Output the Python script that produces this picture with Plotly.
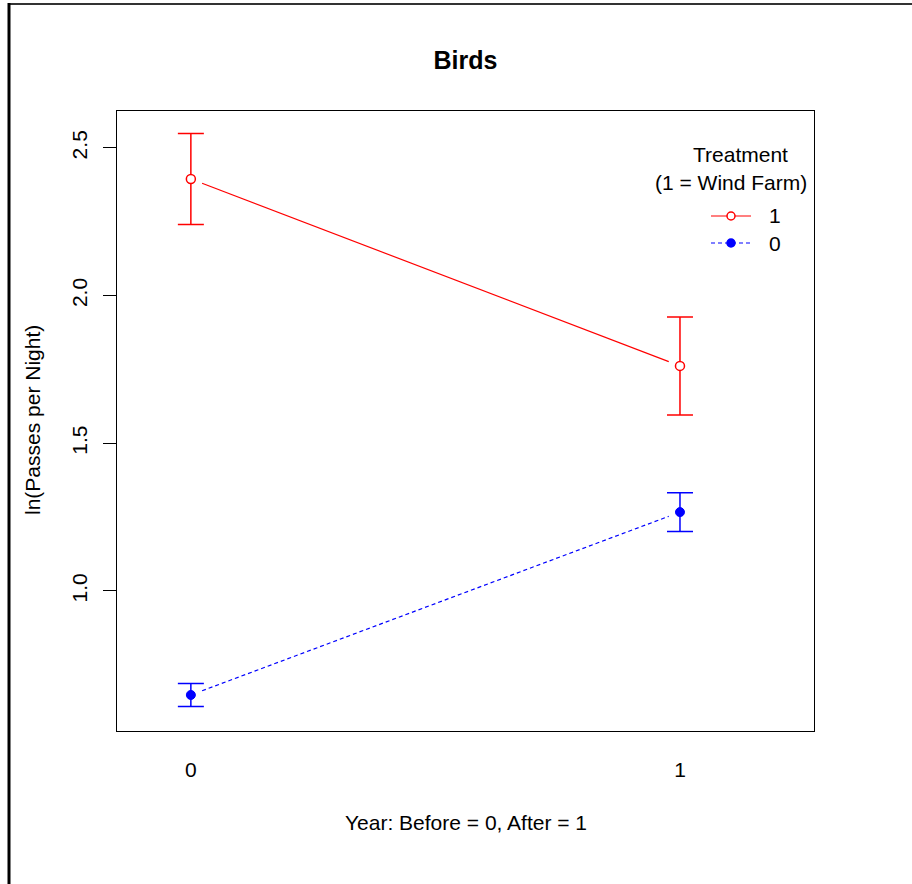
import plotly.graph_objects as go

# Mean ln(passes per night) by survey year, with standard-error half-widths
years = [0, 1]
wind_farm_mean = [2.395, 1.762]
wind_farm_se = [0.154, 0.166]
control_mean = [0.648, 1.267]
control_se = [0.039, 0.066]

y_ticks = [1.0, 1.5, 2.0, 2.5]
x_ticks = [0, 1]
x_tick_text = ["0", "1"]

W, H = 912, 884
M = dict(l=117, r=98, t=111, b=153)
X_RANGE = [-0.151, 1.274]
Y_RANGE = [0.526, 2.625]
FONT = "Liberation Sans, Arial, Helvetica, sans-serif"
FS = 21
RED = "#FF0000"
BLUE = "#0000FF"

plot_w = W - M["l"] - M["r"]
plot_h = H - M["t"] - M["b"]
sx = plot_w / (X_RANGE[1] - X_RANGE[0])
sy = plot_h / (Y_RANGE[1] - Y_RANGE[0])


def px_x(px):
    """Page pixel column -> paper x."""
    return (px - M["l"]) / plot_w


def px_y(py):
    """Page pixel row -> paper y."""
    return (H - M["b"] - py) / plot_h


def gapped_segment(xs, ys, gap_px=12):
    """Shorten the segment between two points so it stops short of each marker."""
    dx = (xs[1] - xs[0]) * sx
    dy = (ys[1] - ys[0]) * sy
    length = (dx ** 2 + dy ** 2) ** 0.5
    f = gap_px / length
    gx = [xs[0] + f * (xs[1] - xs[0]), xs[1] - f * (xs[1] - xs[0])]
    gy = [ys[0] + f * (ys[1] - ys[0]), ys[1] - f * (ys[1] - ys[0])]
    return gx, gy


fig = go.Figure()

# connecting lines (type "b" style, broken around the points)
lx, ly = gapped_segment(years, wind_farm_mean)
fig.add_trace(go.Scatter(x=lx, y=ly, mode="lines", showlegend=False,
                         line=dict(color=RED, width=1.2), hoverinfo="skip"))
lx, ly = gapped_segment(years, control_mean)
fig.add_trace(go.Scatter(x=lx, y=ly, mode="lines", showlegend=False,
                         line=dict(color=BLUE, width=1.2, dash="4px,3px"), hoverinfo="skip"))

# points with error bars
fig.add_trace(go.Scatter(
    x=years, y=wind_farm_mean, mode="markers", name="1", showlegend=False,
    marker=dict(symbol="circle", size=9, color="white", line=dict(color=RED, width=1.5)),
    error_y=dict(type="data", array=wind_farm_se, color=RED, thickness=1.5, width=13),
))
fig.add_trace(go.Scatter(
    x=years, y=control_mean, mode="markers", name="0", showlegend=False,
    marker=dict(symbol="circle", size=9, color=BLUE, line=dict(color=BLUE, width=1)),
    error_y=dict(type="data", array=control_se, color=BLUE, thickness=1.5, width=13),
))

# outer frame lines
fig.add_shape(type="line", xref="paper", yref="paper",
              x0=px_x(9), x1=px_x(W + 10), y0=px_y(4), y1=px_y(4),
              line=dict(color="#333333", width=2))
fig.add_shape(type="line", xref="paper", yref="paper",
              x0=px_x(9), x1=px_x(9), y0=px_y(3), y1=px_y(H + 10),
              line=dict(color="black", width=3))

# legend: title lines, sample keys and labels
fig.add_annotation(text="Treatment", xref="paper", yref="paper",
                   x=px_x(740), y=px_y(154), showarrow=False,
                   xanchor="center", yanchor="middle",
                   font=dict(family=FONT, size=FS, color="black"))
fig.add_annotation(text="(1 = Wind Farm)", xref="paper", yref="paper",
                   x=px_x(731), y=px_y(183), showarrow=False,
                   xanchor="center", yanchor="middle",
                   font=dict(family=FONT, size=FS, color="black"))

legend_rows = [
    ("1", RED, "solid", "white", 216),
    ("0", BLUE, "4px,3px", BLUE, 243),
]
for label, color, dash, fill, row in legend_rows:
    fig.add_shape(type="line", xref="paper", yref="paper",
                  x0=px_x(711), x1=px_x(751), y0=px_y(row), y1=px_y(row),
                  line=dict(color=color, width=1.2, dash=dash))
    fig.add_shape(type="circle", xref="paper", yref="paper",
                  x0=px_x(727), x1=px_x(735), y0=px_y(row + 4), y1=px_y(row - 4),
                  fillcolor=fill, line=dict(color=color, width=1.5))
    fig.add_annotation(text=label, xref="paper", yref="paper",
                       x=px_x(775), y=px_y(row), showarrow=False,
                       xanchor="center", yanchor="middle",
                       font=dict(family=FONT, size=FS, color="black"))

# axis titles
fig.add_annotation(text="Year: Before = 0, After = 1", xref="paper", yref="paper",
                   x=0.5, y=px_y(822), showarrow=False,
                   xanchor="center", yanchor="middle",
                   font=dict(family=FONT, size=FS, color="black"))
fig.add_annotation(text="ln(Passes per Night)", xref="paper", yref="paper",
                   x=px_x(32), y=px_y(420),
                   showarrow=False, textangle=-90, xanchor="center", yanchor="middle",
                   font=dict(family=FONT, size=FS, color="black"))

fig.update_layout(
    width=W, height=H,
    margin=M,
    paper_bgcolor="white", plot_bgcolor="white",
    font=dict(family=FONT, size=FS, color="black"),
    title=dict(text="<b>Birds</b>", x=0.5, xref="paper", xanchor="center",
               y=1 - 60 / H, yref="container", yanchor="middle",
               font=dict(family=FONT, size=25, color="black")),
    showlegend=False,
    xaxis=dict(range=X_RANGE, tickvals=x_ticks, ticktext=x_tick_text,
               showgrid=False, zeroline=False, showline=True, mirror=True,
               linecolor="black", linewidth=1, ticks="", ticklabelstandoff=20,
               tickfont=dict(family=FONT, size=FS, color="black")),
    yaxis=dict(range=Y_RANGE, tickvals=y_ticks, ticktext=[f"{v:.1f}" for v in y_ticks],
               showgrid=False, zeroline=False, showline=True, mirror=True,
               linecolor="black", linewidth=1, ticks="outside", ticklen=13,
               tickcolor="black", tickwidth=1, tickangle=-90, ticklabelstandoff=8,
               tickfont=dict(family=FONT, size=FS, color="black")),
)

fig.write_html("out.html")
